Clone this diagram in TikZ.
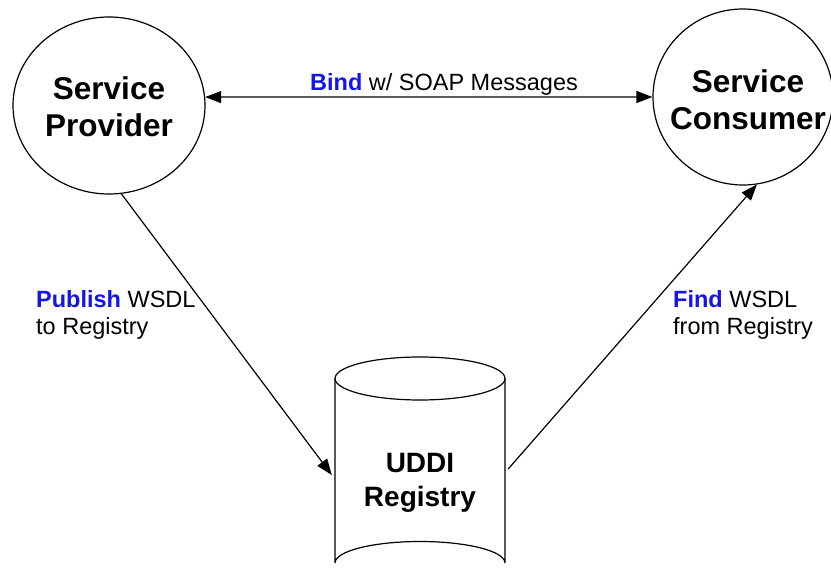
\documentclass[tikz,border=0pt]{standalone}
\usepackage{fontspec}
\setmainfont{Liberation Sans}
\usetikzlibrary{shapes.geometric,arrows.meta}
\definecolor{kw}{RGB}{20,20,235}
\tikzset{
  base/.style={line width=1.2pt},
  actor/.style={base, draw, ellipse, inner sep=0pt},
  title/.style={inner sep=0pt, align=center, font=\fontsize{31.5}{37}\selectfont\bfseries},
  arr/.style={base, -{Triangle[length=16pt,width=12pt]}},
  darr/.style={base, {Triangle[length=16pt,width=12pt]}-{Triangle[length=16pt,width=12pt]}},
  lbl/.style={inner sep=0pt, align=left, font=\fontsize{23.5}{27}\selectfont}
}
\newcommand{\kwd}[1]{\textcolor{kw}{\bfseries #1}}
\begin{document}
\begin{tikzpicture}[x=1pt, y=-1pt]
  \useasboundingbox (0,0) rectangle (831,580);

  % actors
  \node[actor, minimum width=192pt, minimum height=177pt] (prov) at (109,105.5) {};
  \node[actor, minimum width=180pt, minimum height=176pt] (cons) at (743,97) {};
  \node[title, anchor=base] (provtext) at (109,137) {Service\\Provider};
  \node[title, anchor=base] (constext) at (748,130) {Service\\Consumer};

  % registry drum
  \draw[base] (335,378.5) -- (335,563)
    arc[start angle=180, end angle=360, x radius=85pt, y radius=-21.5pt]
    -- (505,378.5);
  \draw[base] (420,378.5) ellipse[x radius=85pt, y radius=21.5pt];
  \node[inner sep=0pt, minimum width=170pt, align=center,
    font=\fontsize{28}{34}\selectfont\bfseries] (reg) at (420,483) {UDDI\\Registry};

  % connectors
  \draw[darr] (prov.5) -- (cons.180);
  \draw[arr] (prov.-82) -- ([xshift=-3pt,yshift=8pt]reg.west);
  \draw[arr] ([xshift=3pt,yshift=14pt]reg.east) -- (cons.-81.6);

  % labels
  \node[lbl, anchor=base] (bindlbl) at (444,91) {\kwd{Bind} w/ SOAP Messages};
  \node[lbl, anchor=base west] (publbl) at (36,335) {\kwd{Publish} WSDL\\to Registry};
  \node[lbl, anchor=base west] (findlbl) at (673,335) {\kwd{Find} WSDL\\from Registry};
\end{tikzpicture}
\end{document}
